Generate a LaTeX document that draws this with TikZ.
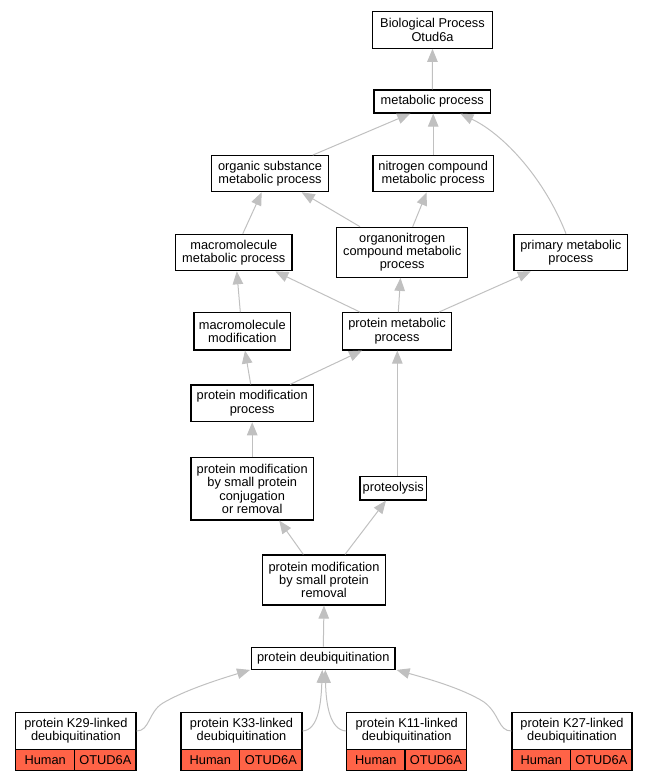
\documentclass[tikz,border=0pt]{standalone}
\usepackage{fontspec}
\setmainfont{Liberation Sans}
\usetikzlibrary{arrows.meta}
\definecolor{edgegray}{HTML}{C0C0C0}
\definecolor{leafred}{HTML}{FF6347}
\begin{document}
\begin{tikzpicture}[x=1pt,y=-1pt,
  box/.style={draw=black, line width=1.2pt, fill=white, inner sep=0pt, align=center,
    font=\fontsize{12.8}{13.3}\selectfont},
  cell/.style={box, fill=leafred},
  edge/.style={draw=edgegray, line width=1pt, -{Triangle[length=13pt,width=10.5pt]}}]
\useasboundingbox (0,0) rectangle (648,781);

% nodes
\node[box, minimum width=119.6pt, minimum height=36.6pt] (bp) at (432.5,30) {Biological Process\\Otud6a};
\node[box, minimum width=116.7pt, minimum height=23pt] (mp) at (432.3,101.5) {metabolic process};
\node[box, minimum width=116.7pt, minimum height=36pt] (os) at (270,173.7) {organic substance\\metabolic process};
\node[box, minimum width=120.3pt, minimum height=36pt] (nc) at (433.2,173.7) {nitrogen compound\\metabolic process};
\node[box, minimum width=116.3pt, minimum height=36.4pt] (mm) at (233.8,252.5) {macromolecule\\metabolic process};
\node[box, minimum width=131pt, minimum height=50pt] (on) at (402.2,252.3) {organonitrogen\\compound metabolic\\process};
\node[box, minimum width=113.7pt, minimum height=36.4pt] (pm) at (570.8,252.5) {primary metabolic\\process};
\node[box, minimum width=96.7pt, minimum height=37.3pt] (mmod) at (242.3,331.3) {macromolecule\\modification};
\node[box, minimum width=109.4pt, minimum height=37.3pt] (pmp) at (397,331.3) {protein metabolic\\process};
\node[box, minimum width=122.3pt, minimum height=36.7pt] (pmod) at (252.2,403.3) {protein modification\\process};
\node[box, minimum width=122.3pt, minimum height=62.3pt] (pmbc) at (252.2,488.8) {protein modification\\by small protein\\conjugation\\or removal};
\node[box, minimum width=66.7pt, minimum height=23.3pt] (prot) at (393.3,488.3) {proteolysis};
\node[box, minimum width=123.4pt, minimum height=50pt] (pmbr) at (324,580) {protein modification\\by small protein\\removal};
\node[box, minimum width=143.3pt, minimum height=22pt] (pd) at (323.3,658.3) {protein deubiquitination};

% leaf records
\node[box, minimum width=120.3pt, minimum height=36.6pt] (k29) at (75.85,731) {protein K29-linked\\deubiquitination};
\node[cell, minimum width=59pt, minimum height=21.4pt] (k29h) at (45.2,760) {Human};
\node[cell, minimum width=61.3pt, minimum height=21.4pt] (k29o) at (105.35,760) {OTUD6A};

\node[box, minimum width=121pt, minimum height=36.6pt] (k33) at (241.5,731) {protein K33-linked\\deubiquitination};
\node[cell, minimum width=58.7pt, minimum height=21.4pt] (k33h) at (210.35,760) {Human};
\node[cell, minimum width=62.3pt, minimum height=21.4pt] (k33o) at (270.85,760) {OTUD6A};

\node[box, minimum width=120pt, minimum height=36.6pt] (k11) at (406.7,731) {protein K11-linked\\deubiquitination};
\node[cell, minimum width=58.3pt, minimum height=21.4pt] (k11h) at (375.85,760) {Human};
\node[cell, minimum width=61.7pt, minimum height=21.4pt] (k11o) at (435.85,760) {OTUD6A};

\node[box, minimum width=120pt, minimum height=36.6pt] (k27) at (572,731) {protein K27-linked\\deubiquitination};
\node[cell, minimum width=58.7pt, minimum height=21.4pt] (k27h) at (541.35,760) {Human};
\node[cell, minimum width=61.3pt, minimum height=21.4pt] (k27o) at (601.35,760) {OTUD6A};

% edges
\draw[edge] (mp.north) -- (bp.south);
\draw[edge] ([xshift=42.7pt]os.north) -- ([xshift=-22pt]mp.south);
\draw[edge] (nc.north) -- (nc.north |- mp.south);
\draw[edge] ([xshift=-4.8pt]pm.north) .. controls (545,180) and (505,135) .. ([xshift=28pt]mp.south);
\draw[edge] ([xshift=9pt]mm.north) -- ([xshift=-8.3pt]os.south);
\draw[edge] ([xshift=-42.2pt]on.north) -- ([xshift=31.7pt]os.south);
\draw[edge] ([xshift=10.5pt]on.north) -- ([xshift=-6.5pt]nc.south);
\draw[edge] ([xshift=-2pt]mmod.north) -- ([xshift=3pt]mm.south);
\draw[edge] ([xshift=-37pt]pmp.north) -- ([xshift=41.5pt]mm.south);
\draw[edge] ([xshift=1.3pt]pmp.north) -- ([xshift=-1.7pt]on.south);
\draw[edge] ([xshift=42pt]pmp.north) -- ([xshift=-40pt]pm.south);
\draw[edge] ([xshift=-1.5pt]pmod.north) -- ([xshift=2.7pt]mmod.south);
\draw[edge] ([xshift=38pt]pmod.north) -- ([xshift=-35pt]pmp.south);
\draw[edge] (pmbc.north) -- (pmod.south);
\draw[edge] ([xshift=4pt]prot.north) -- ([xshift=0.3pt]pmp.south);
\draw[edge] ([xshift=-20.7pt]pmbr.north) -- ([xshift=27pt]pmbc.south);
\draw[edge] ([xshift=21pt]pmbr.north) -- ([xshift=-7.3pt]prot.south);
\draw[edge] (pd.north) -- (pmbr.south);
\draw[edge] (k29.east) .. controls (150,731) and (148,712) .. (163,703)
  .. controls (185,690) and (220,679) .. ([xshift=-1pt]pd.south west);
\draw[edge] (k33.east) .. controls (318,730) and (321,705) .. ([xshift=-1pt]pd.south);
\draw[edge] (k11.west) .. controls (330,730) and (326,705) .. ([xshift=2pt]pd.south);
\draw[edge] (k27.west) .. controls (498,731) and (500,714) .. (484,702)
  .. controls (462,688) and (425,678) .. ([xshift=1pt]pd.south east);
\end{tikzpicture}
\end{document}
